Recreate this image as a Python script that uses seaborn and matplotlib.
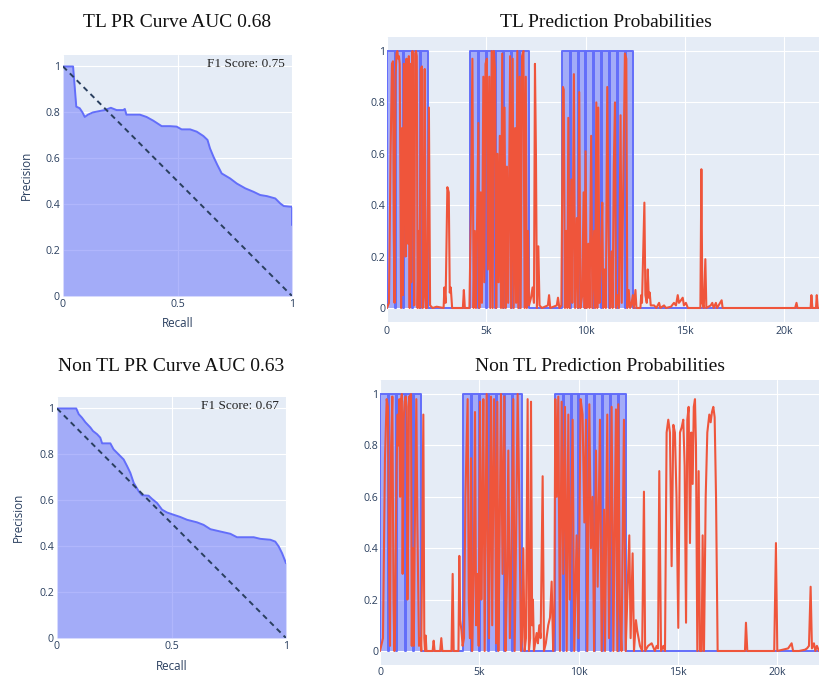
import matplotlib
matplotlib.use("Agg")
import matplotlib.pyplot as plt
import numpy as np
import pandas as pd
import seaborn as sns

# ---------------- data ----------------
# precision-recall curves
tl_recall = [0.0, 0.044, 0.058, 0.073, 0.085, 0.095, 0.109, 0.131, 0.161, 0.182, 0.209,
             0.234, 0.263, 0.270, 0.277, 0.307, 0.336, 0.365, 0.394, 0.431, 0.467, 0.496,
             0.518, 0.555, 0.584, 0.613, 0.631, 0.642, 0.657, 0.674, 0.693, 0.730, 0.759,
             0.796, 0.832, 0.861, 0.891, 0.927, 0.949, 0.964, 0.993, 1.0, 1.0]
tl_precision = [1.0, 1.0, 0.825, 0.818, 0.80, 0.78, 0.79, 0.80, 0.806, 0.81, 0.82,
                0.81, 0.81, 0.815, 0.79, 0.79, 0.79, 0.78, 0.764, 0.74, 0.74, 0.738,
                0.726, 0.726, 0.716, 0.697, 0.68, 0.643, 0.607, 0.571, 0.534, 0.512, 0.49,
                0.469, 0.454, 0.44, 0.435, 0.425, 0.403, 0.392, 0.389, 0.389, 0.309]

ntl_recall = [0.0, 0.084, 0.095, 0.109, 0.124, 0.146, 0.157, 0.175, 0.189, 0.197, 0.233,
              0.247, 0.269, 0.291, 0.306, 0.320, 0.335, 0.357, 0.371, 0.400, 0.415, 0.437,
              0.459, 0.480, 0.509, 0.539, 0.568, 0.611, 0.640, 0.670, 0.713, 0.757, 0.786,
              0.859, 0.888, 0.932, 0.953, 0.968, 0.983, 1.0]
ntl_precision = [1.0, 1.0, 0.975, 0.96, 0.94, 0.917, 0.902, 0.888, 0.873, 0.848, 0.848,
                 0.822, 0.80, 0.778, 0.749, 0.72, 0.676, 0.639, 0.622, 0.62, 0.606, 0.588,
                 0.559, 0.547, 0.537, 0.527, 0.515, 0.504, 0.493, 0.474, 0.464, 0.454, 0.439,
                 0.439, 0.432, 0.428, 0.42, 0.399, 0.369, 0.326]

tl_auc, ntl_auc = 0.68, 0.63
tl_f1, ntl_f1 = 0.75, 0.67

# ground-truth label: sample ranges where the label is 1
series_length = 22105
label_on_start = [0, 450, 870, 1310, 1730,
                  4200, 4640, 5050, 5470, 5880, 6300, 6720,
                  8830, 9250, 9650, 10040, 10430, 10830, 11230, 11630, 12030]
label_on_end = [400, 820, 1260, 1680, 2045,
                4590, 5000, 5420, 5830, 6250, 6670, 7160,
                9200, 9600, 9990, 10380, 10780, 11180, 11580, 11980, 12400]

# predicted probabilities (sample index, probability)
tl_prob_points = [
    (0, 0.0), (100, 0.02), (180, 0.6), (250, 0.95), (300, 0.96), (340, 0.3), (380, 0.02),
    (430, 0.9), (480, 0.99), (520, 1.0), (560, 0.97), (600, 0.98), (640, 0.95), (680, 0.4),
    (710, 0.0), (760, 0.7), (800, 0.05), (850, 0.95), (900, 0.93), (940, 0.2), (980, 0.97),
    (1020, 0.75), (1060, 0.25), (1100, 0.98), (1140, 0.0), (1180, 0.95), (1220, 0.1),
    (1280, 1.0), (1330, 0.6), (1370, 0.01), (1420, 0.99), (1460, 1.0), (1500, 0.98),
    (1540, 0.0), (1600, 0.3), (1640, 0.0), (1700, 0.93), (1760, 0.94), (1800, 0.0),
    (1850, 0.05), (1900, 0.93), (1950, 0.0), (2010, 0.0), (2110, 0.78), (2170, 0.01),
    (2300, 0.0), (2500, 0.005), (2850, 0.0), (2890, 0.08), (2950, 0.02), (3040, 0.47),
    (3110, 0.45), (3160, 0.06), (3210, 0.08), (3280, 0.0), (3820, 0.0), (3870, 0.07),
    (3920, 0.0), (4150, 0.0), (4230, 0.4), (4300, 0.97), (4360, 0.0), (4420, 0.3),
    (4480, 0.0), (4600, 0.72), (4650, 0.0), (4720, 0.45), (4780, 0.02), (4850, 0.9),
    (4900, 0.1), (4960, 0.95), (5030, 0.97), (5080, 0.15), (5150, 0.9), (5200, 0.0),
    (5270, 1.0), (5320, 0.0), (5380, 1.0), (5440, 0.93), (5500, 0.0), (5560, 0.6),
    (5620, 0.1), (5680, 0.67), (5740, 0.0), (5800, 0.99), (5850, 0.0), (5920, 0.78),
    (5980, 0.0), (6040, 0.55), (6100, 0.02), (6200, 0.98), (6250, 0.0), (6330, 0.97),
    (6380, 0.0), (6450, 0.7), (6500, 0.02), (6560, 1.0), (6610, 0.0), (6680, 0.9),
    (6730, 0.0), (6800, 0.98), (6870, 1.0), (6930, 0.0), (6990, 0.9), (7040, 0.0),
    (7100, 0.3), (7150, 0.01), (7250, 0.04), (7330, 0.08), (7400, 0.02), (7450, 0.95),
    (7500, 0.6), (7550, 0.0), (7620, 0.24), (7680, 0.01), (7800, 0.0), (8100, 0.01),
    (8160, 0.05), (8220, 0.0), (8550, 0.01), (8610, 0.04), (8680, 0.0), (8780, 0.01),
    (8860, 0.86), (8900, 0.85), (8960, 0.0), (9030, 0.3), (9080, 0.0), (9130, 0.74),
    (9200, 0.0), (9280, 0.5), (9330, 0.02), (9410, 0.91), (9470, 0.0), (9560, 0.35),
    (9610, 0.0), (9680, 0.84), (9740, 0.0), (9830, 0.05), (9900, 0.45), (9950, 0.0),
    (10000, 0.61), (10060, 0.0), (10140, 0.25), (10200, 0.0), (10280, 0.67), (10340, 0.0),
    (10430, 0.3), (10480, 0.0), (10540, 0.8), (10590, 0.0), (10640, 0.78), (10700, 0.02),
    (10780, 0.2), (10840, 0.41), (10890, 0.0), (10960, 0.15), (11020, 0.0), (11090, 0.86),
    (11160, 0.28), (11220, 0.0), (11300, 0.22), (11360, 0.0), (11420, 0.55), (11480, 0.8),
    (11530, 0.0), (11610, 0.05), (11680, 0.0), (11760, 0.75), (11820, 0.02), (11900, 0.5),
    (11980, 0.99), (12050, 0.97), (12100, 0.0), (12170, 0.07), (12240, 0.0), (12300, 0.01),
    (12380, 0.05), (12430, 0.0), (12510, 0.07), (12560, 0.0), (12760, 0.0), (12800, 0.05),
    (12840, 0.02), (12960, 0.41), (13010, 0.05), (13080, 0.02), (13130, 0.15), (13180, 0.04),
    (13230, 0.06), (13280, 0.01), (13450, 0.01), (13560, 0.0), (13700, 0.02), (13760, 0.0),
    (13950, 0.01), (14050, 0.0), (14300, 0.005), (14450, 0.02), (14550, 0.01), (14640, 0.05),
    (14700, 0.02), (14800, 0.03), (14890, 0.04), (14950, 0.01), (15050, 0.02), (15150, 0.0),
    (15400, 0.0), (15780, 0.0), (15830, 0.54), (15880, 0.02), (15950, 0.0), (16030, 0.19),
    (16080, 0.0), (16300, 0.01), (16380, 0.02), (16450, 0.0), (16560, 0.02), (16620, 0.0),
    (16850, 0.03), (16900, 0.0), (18500, 0.0), (20550, 0.0), (20620, 0.02), (20670, 0.0),
    (21330, 0.0), (21370, 0.05), (21420, 0.0), (21600, 0.0), (21640, 0.05), (21690, 0.0),
    (22105, 0.0),
]

ntl_prob_points = [
    (0, 0.0), (60, 0.02), (150, 0.05), (250, 0.75), (336, 0.98), (400, 0.95), (460, 0.3),
    (503, 0.02), (560, 0.8), (621, 0.99), (680, 0.2), (722, 0.0), (760, 0.1), (830, 0.7),
    (889, 0.92), (930, 0.8), (973, 0.98), (1010, 0.6), (1057, 0.97), (1100, 1.0),
    (1140, 0.3), (1192, 0.9), (1240, 0.97), (1292, 0.99), (1340, 0.95), (1380, 0.2),
    (1427, 0.55), (1460, 0.99), (1494, 0.99), (1561, 1.0), (1600, 0.02), (1650, 0.4),
    (1700, 0.02), (1750, 0.45), (1830, 0.98), (1880, 0.5), (1964, 0.02), (2040, 0.05),
    (2080, 0.0), (2182, 0.92), (2230, 0.05), (2266, 0.0), (2300, 0.06), (2340, 0.0),
    (2650, 0.0), (2702, 0.04), (2750, 0.0), (3030, 0.0), (3087, 0.05), (3140, 0.0),
    (3600, 0.0), (3659, 0.3), (3710, 0.0), (3950, 0.0), (3994, 0.37), (4040, 0.12),
    (4100, 0.08), (4160, 0.02), (4230, 0.05), (4300, 0.6), (4413, 0.98), (4470, 0.2),
    (4530, 0.05), (4581, 0.75), (4640, 0.0), (4720, 0.3), (4783, 0.93), (4840, 0.1),
    (4910, 0.3), (4970, 0.02), (5035, 0.97), (5100, 0.2), (5150, 0.5), (5203, 0.98),
    (5270, 0.0), (5370, 1.0), (5430, 0.4), (5488, 0.05), (5589, 0.99), (5650, 0.1),
    (5740, 0.98), (5800, 0.6), (5850, 0.03), (5908, 0.97), (5960, 0.0), (6030, 0.5),
    (6092, 1.0), (6170, 0.3), (6260, 0.99), (6320, 0.0), (6400, 0.3), (6461, 0.78),
    (6540, 0.05), (6620, 0.4), (6713, 0.98), (6780, 0.0), (6860, 0.5), (6931, 1.0),
    (7010, 0.6), (7099, 0.0), (7150, 0.05), (7217, 0.4), (7280, 0.0), (7350, 0.05),
    (7434, 0.98), (7500, 0.0), (7560, 0.05), (7603, 0.97), (7660, 0.1), (7700, 0.2),
    (7753, 0.0), (7888, 0.07), (7950, 0.03), (8020, 0.1), (8089, 0.05), (8190, 0.68),
    (8257, 0.0), (8350, 0.03), (8470, 0.1), (8560, 0.13), (8643, 0.27), (8720, 0.0),
    (8780, 0.15), (8827, 0.98), (8900, 0.6), (8978, 0.99), (9060, 0.0), (9146, 0.97),
    (9230, 0.3), (9314, 0.95), (9400, 0.0), (9482, 0.92), (9560, 0.2), (9700, 0.9),
    (9780, 0.0), (9900, 0.45), (9990, 0.05), (10103, 0.98), (10200, 0.92), (10290, 0.5),
    (10371, 0.9), (10440, 0.0), (10540, 0.96), (10620, 0.4), (10707, 0.6), (10780, 0.0),
    (10874, 0.78), (10960, 0.25), (11076, 0.9), (11160, 0.0), (11280, 0.55), (11330, 0.0),
    (11445, 0.92), (11530, 0.05), (11663, 0.95), (11750, 0.0), (11881, 0.94), (11950, 0.0),
    (11999, 0.96), (12080, 0.15), (12160, 0.0), (12284, 0.9), (12370, 0.0), (12451, 0.2),
    (12552, 0.45), (12620, 0.05), (12720, 0.38), (12790, 0.0), (12888, 0.12), (12950, 0.08),
    (13090, 0.02), (13200, 0.0), (13291, 0.62), (13350, 0.0), (13500, 0.02), (13680, 0.03),
    (13840, 0.0), (13930, 0.02), (14000, 0.01), (14063, 0.70), (14150, 0.0), (14270, 0.02),
    (14350, 0.0), (14432, 0.85), (14516, 0.9), (14600, 0.85), (14684, 0.33), (14770, 0.88),
    (14850, 0.85), (14930, 0.6), (15019, 0.09), (15103, 0.85), (15190, 0.87), (15271, 0.9),
    (15340, 0.72), (15410, 0.11), (15474, 0.9), (15541, 0.95), (15608, 0.42), (15675, 0.85),
    (15743, 0.65), (15800, 0.95), (15860, 0.98), (15910, 0.8), (15978, 0.0), (16045, 0.7),
    (16110, 0.0), (16196, 0.0), (16246, 0.45), (16313, 0.0), (16400, 0.6), (16481, 0.85),
    (16582, 0.92), (16650, 0.89), (16716, 0.93), (16783, 0.95), (16850, 0.91), (16920, 0.6),
    (17001, 0.0), (18377, 0.0), (18427, 0.11), (18495, 0.0), (19850, 0.0), (19890, 0.2),
    (19938, 0.42), (20005, 0.0), (20550, 0.01), (20727, 0.03), (20800, 0.0), (21100, 0.0),
    (21400, 0.005), (21500, 0.01), (21600, 0.02), (21683, 0.25), (21750, 0.01), (21850, 0.03),
    (21920, 0.0), (22000, 0.02), (22105, 0.0),
]

pred_xticks = [0, 5000, 10000, 15000, 20000]
pred_xticklabels = ["0", "5k", "10k", "15k", "20k"]
prob_yticks = [0, 0.2, 0.4, 0.6, 0.8, 1.0]
prob_yticklabels = ["0", "0.2", "0.4", "0.6", "0.8", "1"]

# ---------------- style ----------------
BG = "#E5ECF6"
BLUE = "#636EFA"
RED = "#EF553B"
INK = "#2a3f5f"

sns.set_theme(style="darkgrid", rc={
    "axes.facecolor": BG,
    "figure.facecolor": "white",
    "grid.color": "white",
    "grid.linewidth": 0.8,
    "axes.edgecolor": BG,
    "xtick.color": INK,
    "ytick.color": INK,
    "axes.labelcolor": INK,
})
plt.rcParams["font.family"] = ["Open Sans", "DejaVu Sans"]

W, H = 819, 677
fig = plt.figure(figsize=(W / 100, H / 100), dpi=100)


def px_axes(left, top, width, height):
    return fig.add_axes([left / W, (H - top - height) / H, width / W, height / H])


def style_ticks(ax, xpad, ypad):
    ax.tick_params(axis="both", length=0, labelsize=7.6, labelcolor=INK)
    ax.tick_params(axis="x", pad=xpad)
    ax.tick_params(axis="y", pad=ypad)
    for s in ax.spines.values():
        s.set_visible(False)


def draw_pr(ax, recall, precision, f1, ylabel_x, xlabel_y):
    ax.fill_between(recall, precision, 0, color=BLUE, alpha=0.5, lw=0, zorder=2)
    sns.lineplot(x=recall, y=precision, sort=False, estimator=None, ax=ax,
                 color=BLUE, lw=1.4, zorder=3)
    sns.lineplot(x=[0, 1], y=[1, 0], sort=False, estimator=None, ax=ax,
                 color=INK, lw=1.4, zorder=4)
    ax.lines[-1].set_dashes([2.8, 2.2])
    ax.set_xlim(0, 1)
    ax.set_ylim(0, 1.05)
    ax.set_xticks([0, 0.5, 1])
    ax.set_xticklabels(["0", "0.5", "1"])
    ax.set_yticks(prob_yticks)
    ax.set_yticklabels(prob_yticklabels)
    style_ticks(ax, 2.5, 2.2)
    ax.set_xlabel("Recall", fontsize=8.4)
    ax.set_ylabel("Precision", fontsize=8.4)
    ax.xaxis.set_label_coords(0.5, xlabel_y)
    ax.xaxis.label.set_va("center")
    ax.yaxis.set_label_coords(ylabel_x, 0.5)
    ax.yaxis.label.set_va("center")
    ax.text(0.968, 1.012, f"F1 Score: {f1:.2f}", ha="right", va="center",
            fontsize=9.5, family="Liberation Serif", color="#222222", zorder=5)


def draw_pred(ax, prob_points, xpad):
    # label as a step trace with fill to zero
    lx, ly = [0], [0]
    for s, e in zip(label_on_start, label_on_end):
        lx += [s, s, e, e]
        ly += [0, 1, 1, 0]
    lx.append(series_length)
    ly.append(0)
    ax.fill_between(lx, ly, 0, color=BLUE, alpha=0.5, lw=0, zorder=2)
    sns.lineplot(x=lx, y=ly, sort=False, estimator=None, ax=ax,
                 color=BLUE, lw=1.4, zorder=3)
    px, py = zip(*prob_points)
    sns.lineplot(x=list(px), y=list(py), sort=False, estimator=None, ax=ax,
                 color=RED, lw=1.5, zorder=4)
    ax.set_xlim(0, series_length)
    ax.set_ylim(-0.0545, 1.0545)
    ax.set_xticks(pred_xticks)
    ax.set_xticklabels(pred_xticklabels)
    ax.set_yticks(prob_yticks)
    ax.set_yticklabels(prob_yticklabels)
    style_ticks(ax, xpad, 1.0)
    ax.set_xlabel("")
    ax.set_ylabel("")


ax_tl_pr = px_axes(63, 55, 229, 241)
ax_ntl_pr = px_axes(57, 397, 229, 241)
ax_tl_pred = px_axes(387, 37, 439, 285)
ax_ntl_pred = px_axes(380, 380, 439, 285)

draw_pr(ax_tl_pr, tl_recall, tl_precision, tl_f1, -0.162, -0.116)
draw_pr(ax_ntl_pr, ntl_recall, ntl_precision, ntl_f1, -0.170, -0.120)
draw_pred(ax_tl_pred, tl_prob_points, 3.0)
draw_pred(ax_ntl_pred, ntl_prob_points, 1.5)

title_kw = dict(ha="center", va="baseline", fontsize=14, family="Liberation Serif",
                color="#111111")
fig.text(177 / W, 1 - 27 / H, f"TL PR Curve AUC {tl_auc:.2f}", **title_kw)
fig.text(606 / W, 1 - 27 / H, "TL Prediction Probabilities", **title_kw)
fig.text(171 / W, 1 - 371 / H, f"Non TL PR Curve AUC {ntl_auc:.2f}", **title_kw)
fig.text(600 / W, 1 - 371 / H, "Non TL Prediction Probabilities", **title_kw)

fig.savefig("out.png", dpi=100)
